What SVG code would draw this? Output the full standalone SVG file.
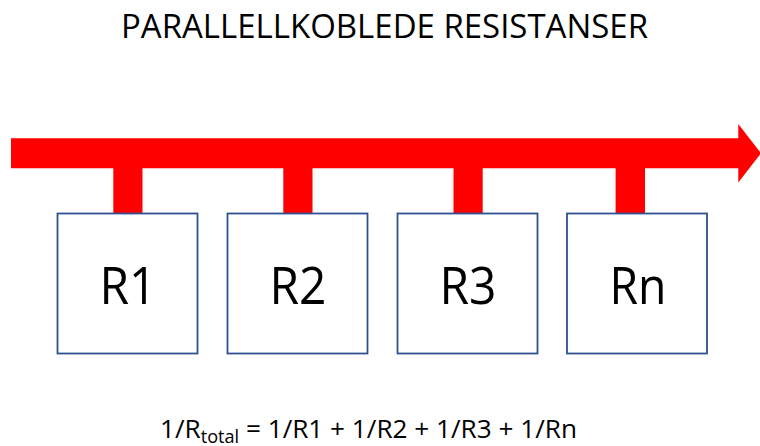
<svg xmlns="http://www.w3.org/2000/svg" width="760" height="446" viewBox="0 0 760 446">
  <style>
    .txt { font-family: "Open Sans", "Liberation Sans", sans-serif; fill: #000000; }
    .box { fill: #FFFFFF; stroke: #2F528F; stroke-width: 1.8; }
    .wire { fill: #FF0000; stroke: none; }
    .label { font-size: 52px; text-anchor: middle; }
  </style>
  <rect width="760" height="446" fill="#FFFFFF"/>

  <text class="txt" x="121" y="37.5" font-size="33" textLength="527" lengthAdjust="spacingAndGlyphs">PARALLELLKOBLEDE RESISTANSER</text>

  <!-- Main current arrow with branch taps -->
  <g id="connectors">
    <path class="wire" d="M11,138.3 H738.3 V124 L761,153.3 L738.3,182.5 V168.3 H11 Z"/>
    <rect class="wire" x="113.3" y="167" width="29.2" height="47"/>
    <rect class="wire" x="283.3" y="167" width="29.2" height="47"/>
    <rect class="wire" x="453.5" y="167" width="29.2" height="47"/>
    <rect class="wire" x="615.6" y="167" width="29.4" height="47"/>
  </g>

  <g id="r1">
    <rect class="box" x="57.5" y="213.5" width="140" height="140"/>
    <text class="txt label" x="128" y="303.5" textLength="57" lengthAdjust="spacingAndGlyphs">R1</text>
  </g>
  <g id="r2">
    <rect class="box" x="227.5" y="213.5" width="140" height="140"/>
    <text class="txt label" x="298" y="303.5" textLength="57" lengthAdjust="spacingAndGlyphs">R2</text>
  </g>
  <g id="r3">
    <rect class="box" x="397.5" y="213.5" width="140" height="140"/>
    <text class="txt label" x="468" y="303.5" textLength="57" lengthAdjust="spacingAndGlyphs">R3</text>
  </g>
  <g id="rn">
    <rect class="box" x="567" y="213.5" width="140" height="140"/>
    <text class="txt label" x="638" y="303.5" textLength="57" lengthAdjust="spacingAndGlyphs">Rn</text>
  </g>

  <text class="txt" x="160" y="438" font-size="26" textLength="417" lengthAdjust="spacingAndGlyphs">1/R<tspan font-size="18" dy="4.5">total</tspan><tspan dy="-4.5"> = 1/R1 + 1/R2 + 1/R3 + 1/Rn</tspan></text>
</svg>
